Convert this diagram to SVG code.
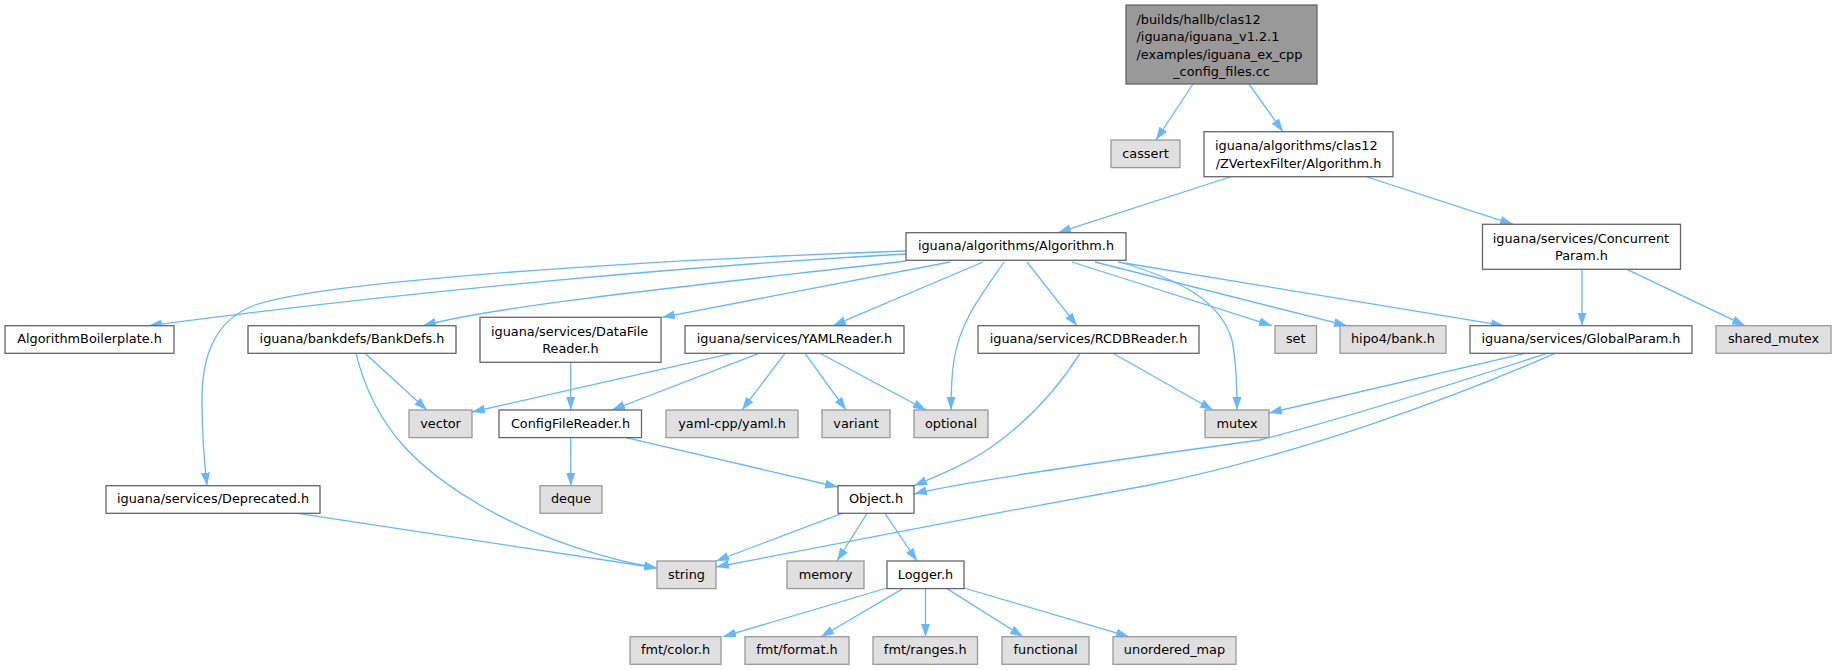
<svg xmlns="http://www.w3.org/2000/svg" width="1836" height="670" viewBox="0 0 1836 670">
<defs>
<style>
.n rect{fill:#ffffff;stroke:#666666;stroke-width:1.3}
.g rect{fill:#e0e0e0;stroke:#999999;stroke-width:1.3}
.r rect{fill:#999999;stroke:#666666;stroke-width:1.3}
text{font-family:"DejaVu Sans","Liberation Sans",sans-serif;font-size:12.85px;fill:#000000}
.m{text-anchor:middle}
.s{text-anchor:start}
#edges path{fill:none;stroke:#63b8ff;stroke-width:1.3;marker-end:url(#arr)}
</style>
<marker id="arr" markerUnits="userSpaceOnUse" markerWidth="14" markerHeight="10" refX="13" refY="5" orient="auto">
<path d="M0,0.5 L13,5 L0,9.5 z" fill="#63b8ff"/>
</marker>
</defs>
<rect x="0" y="0" width="1836" height="670" fill="#ffffff"/>
<g id="edges">
<path d="M1193,84 L1156,140"/>
<path d="M1249,84 L1283,131.7"/>
<path d="M1230,177 L1058,232.7"/>
<path d="M1367,177 L1513,224.3"/>
<path d="M906,254 C700,265 400,292 149,325.7"/>
<path d="M906,261 C700,285 500,305 423,325.7"/>
<path d="M950,262 L662,317.3"/>
<path d="M983,262 L833,325.7"/>
<path d="M906,251 C650,260 330,280 255,305 C215,320 202,355 202,400 C202,430 204,460 207,485.7"/>
<path d="M1004,262 C985,290 960,320 954,360 C951,380 951,395 951,410"/>
<path d="M1027,262 L1077,325.7"/>
<path d="M1120,262 C1180,280 1220,300 1232,340 C1237,365 1237,390 1237,410"/>
<path d="M1072,262 L1272,325.7"/>
<path d="M1095,262 L1347,325.7"/>
<path d="M1118,262 L1504,325.7"/>
<path d="M1582,269.3 L1582,325.7"/>
<path d="M1627,269.3 L1745,325.7"/>
<path d="M365,353.3 L427,410"/>
<path d="M356,353.3 C375,430 420,470 480,505 C540,540 610,560 657,568"/>
<path d="M570.7,362.3 L570.7,410"/>
<path d="M732,353.3 L472,412"/>
<path d="M759,353.3 L612,410"/>
<path d="M785,353.3 L742,410"/>
<path d="M805,353.3 L846,410"/>
<path d="M820,353.3 L926,410"/>
<path d="M1080,353.3 C1060,385 1030,420 990,448 C965,465 935,477 914,485.7"/>
<path d="M1113,353.3 L1213,410"/>
<path d="M1525,353.3 L1269,413"/>
<path d="M1547,353.3 C1450,385 1330,422 1260,440 C1100,462 960,482 914,494"/>
<path d="M1555,353.3 C1460,395 1300,455 1150,485 C1000,512 800,550 716,567"/>
<path d="M570.7,437.7 L570.7,485.7"/>
<path d="M626,437.7 L838,487"/>
<path d="M298,513.3 L657,568"/>
<path d="M842,513.3 L716,561"/>
<path d="M867,513.3 L837,561"/>
<path d="M885,513.3 L917,561"/>
<path d="M887,588 L723,636.7"/>
<path d="M903,588.6 L821,636.7"/>
<path d="M925.5,588.6 L925.5,636.7"/>
<path d="M947,588.6 L1023,636.7"/>
<path d="M964,588 L1129,636.7"/>
</g>
<g id="root" class="r"><rect x="1126" y="5" width="191" height="79"/>
<text class="s" x="1136.5" y="24">/builds/hallb/clas12</text>
<text class="s" x="1136.5" y="41.3">/iguana/iguana_v1.2.1</text>
<text class="s" x="1136.5" y="58.6">/examples/iguana_ex_cpp</text>
<text class="m" x="1221.5" y="75.9">_config_files.cc</text></g>
<g id="cassert" class="g"><rect x="1111" y="140" width="69" height="27.6"/><text class="m" x="1145.5" y="157.6">cassert</text></g>
<g id="zvertex" class="n"><rect x="1204" y="131.7" width="189" height="45"/>
<text class="s" x="1215" y="150.2">iguana/algorithms/clas12</text>
<text class="m" x="1298.5" y="167.5">/ZVertexFilter/Algorithm.h</text></g>
<g id="algorithm" class="n"><rect x="906" y="232.7" width="220" height="27.6"/><text class="m" x="1016" y="250.3">iguana/algorithms/Algorithm.h</text></g>
<g id="concurrentparam" class="n"><rect x="1482.5" y="224.3" width="198" height="45"/>
<text class="s" x="1492.7" y="242.8">iguana/services/Concurrent</text>
<text class="m" x="1581.5" y="260.1">Param.h</text></g>
<g id="boilerplate" class="n"><rect x="5" y="325.7" width="169" height="27.6"/><text class="m" x="89.5" y="343.3">AlgorithmBoilerplate.h</text></g>
<g id="bankdefs" class="n"><rect x="248" y="325.7" width="208" height="27.6"/><text class="m" x="352" y="343.3">iguana/bankdefs/BankDefs.h</text></g>
<g id="datafilereader" class="n"><rect x="480" y="317.3" width="181" height="45"/>
<text class="s" x="491" y="335.8">iguana/services/DataFile</text>
<text class="m" x="570.5" y="353.1">Reader.h</text></g>
<g id="yamlreader" class="n"><rect x="685" y="325.7" width="219" height="27.6"/><text class="m" x="794.5" y="343.3">iguana/services/YAMLReader.h</text></g>
<g id="rcdbreader" class="n"><rect x="978" y="325.7" width="221" height="27.6"/><text class="m" x="1088.5" y="343.3">iguana/services/RCDBReader.h</text></g>
<g id="set" class="g"><rect x="1275" y="325.7" width="41.5" height="27.6"/><text class="m" x="1295.7" y="343.3">set</text></g>
<g id="hipo4" class="g"><rect x="1340" y="325.7" width="106" height="27.6"/><text class="m" x="1393" y="343.3">hipo4/bank.h</text></g>
<g id="globalparam" class="n"><rect x="1470" y="325.7" width="222" height="27.6"/><text class="m" x="1581" y="343.3">iguana/services/GlobalParam.h</text></g>
<g id="shared_mutex" class="g"><rect x="1716" y="325.7" width="115" height="27.6"/><text class="m" x="1773.5" y="343.3">shared_mutex</text></g>
<g id="vector" class="g"><rect x="409" y="410" width="63" height="27.6"/><text class="m" x="440.5" y="427.6">vector</text></g>
<g id="configfilereader" class="n"><rect x="499" y="410" width="142.5" height="27.6"/><text class="m" x="570.5" y="427.6">ConfigFileReader.h</text></g>
<g id="yamlcpp" class="g"><rect x="666" y="410" width="132" height="27.6"/><text class="m" x="732" y="427.6">yaml-cpp/yaml.h</text></g>
<g id="variant" class="g"><rect x="822" y="410" width="68" height="27.6"/><text class="m" x="856" y="427.6">variant</text></g>
<g id="optional" class="g"><rect x="914" y="410" width="74" height="27.6"/><text class="m" x="951" y="427.6">optional</text></g>
<g id="mutex" class="g"><rect x="1205" y="410" width="64" height="27.6"/><text class="m" x="1237" y="427.6">mutex</text></g>
<g id="deprecated" class="n"><rect x="106" y="485.7" width="214" height="27.6"/><text class="m" x="213" y="503.3">iguana/services/Deprecated.h</text></g>
<g id="deque" class="g"><rect x="540" y="485.7" width="62" height="27.6"/><text class="m" x="571" y="503.3">deque</text></g>
<g id="object" class="n"><rect x="838" y="485.7" width="76" height="27.6"/><text class="m" x="876" y="503.3">Object.h</text></g>
<g id="string" class="g"><rect x="657" y="561" width="59" height="27.6"/><text class="m" x="686.5" y="578.6">string</text></g>
<g id="memory" class="g"><rect x="787" y="561" width="77" height="27.6"/><text class="m" x="825.5" y="578.6">memory</text></g>
<g id="logger" class="n"><rect x="887" y="561" width="77" height="27.6"/><text class="m" x="925.5" y="578.6">Logger.h</text></g>
<g id="fmtcolor" class="g"><rect x="630" y="636.7" width="91" height="27.6"/><text class="m" x="675.5" y="654.3">fmt/color.h</text></g>
<g id="fmtformat" class="g"><rect x="745" y="636.7" width="104" height="27.6"/><text class="m" x="797" y="654.3">fmt/format.h</text></g>
<g id="fmtranges" class="g"><rect x="873" y="636.7" width="104.5" height="27.6"/><text class="m" x="925.2" y="654.3">fmt/ranges.h</text></g>
<g id="functional" class="g"><rect x="1002" y="636.7" width="87" height="27.6"/><text class="m" x="1045.5" y="654.3">functional</text></g>
<g id="unordered_map" class="g"><rect x="1113" y="636.7" width="123" height="27.6"/><text class="m" x="1174.5" y="654.3">unordered_map</text></g>
</svg>
